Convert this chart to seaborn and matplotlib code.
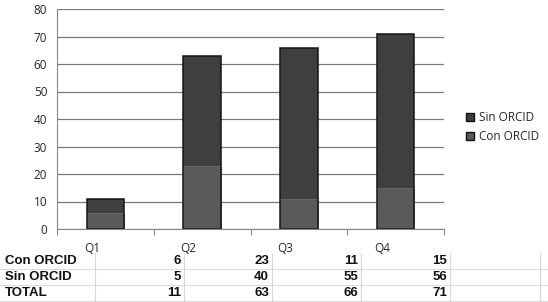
import matplotlib.pyplot as plt
import pandas as pd
import seaborn as sns
from matplotlib.lines import Line2D
from matplotlib.patches import Patch

# data
quarters = ['Q1', 'Q2', 'Q3', 'Q4']
con_orcid = [6, 23, 11, 15]
sin_orcid = [5, 40, 55, 56]
total = [11, 63, 66, 71]

df = pd.DataFrame({'quarter': quarters, 'con': con_orcid, 'sin': sin_orcid, 'total': total})

sns.set_style('white')
plt.rcParams['font.family'] = ['Open Sans', 'DejaVu Sans']

fig = plt.figure(figsize=(5.48, 3.02), dpi=100)
ax = fig.add_axes([57 / 548, 1 - 229 / 302, 387 / 548, 220 / 302])

sin_color = '#3f3f3f'
con_color = '#5a5a5a'

# stacked: total bar (Sin on top) then Con bar over the bottom
sns.barplot(data=df, x='quarter', y='total', color=sin_color, width=0.39,
            linewidth=0, saturation=1, ax=ax)
sns.barplot(data=df, x='quarter', y='con', color=con_color, width=0.39,
            edgecolor='#6a6a6a', linewidth=0.6, saturation=1, ax=ax)
# outline of whole bar
sns.barplot(data=df, x='quarter', y='total', fill=False, width=0.39,
            edgecolor='#151515', linewidth=1.1, ax=ax)

ax.set_ylim(0, 80)
ax.set_xlim(-0.5, 3.5)
ax.set_yticks(range(0, 81, 10))
ax.yaxis.grid(True, color='#7a7a7a', linewidth=0.9)
ax.set_axisbelow(True)
ax.set_xlabel('')
ax.set_ylabel('')
for s in ['top', 'right']:
    ax.spines[s].set_visible(False)
ax.spines['left'].set_color('#888888')
ax.spines['bottom'].set_color('#888888')
ax.tick_params(axis='y', length=4, direction='out', color='#888888', labelsize=8.5, pad=3)
ax.set_xticks([-0.5, 0.5, 1.5, 2.5, 3.5])
ax.set_xticklabels([])
ax.tick_params(axis='x', length=4, direction='out', color='#888888', bottom=True)
for i, q in enumerate(quarters):
    ax.text(i - 0.14, -0.06, q, transform=ax.get_xaxis_transform(), ha='center', va='top', fontsize=8.5)

# legend
handles = [Patch(facecolor=sin_color, edgecolor='#111111', label='Sin ORCID'),
           Patch(facecolor=con_color, edgecolor='#111111', label='Con ORCID')]
fig.legend(handles=handles, loc='center left', bbox_to_anchor=(455 / 548, 1 - 127 / 302),
           frameon=False, fontsize=8.5, handlelength=0.7, handleheight=0.7,
           handletextpad=0.4, labelspacing=0.5)

# table below the chart
W, H = 548, 302
col_edges = [95, 184, 272, 361, 450, 540]
row_y = [261, 277, 293]
row_lines = [252, 269, 285, 301]
rows = [('Con ORCID', con_orcid), ('Sin ORCID', sin_orcid), ('TOTAL', total)]
for yy, (label, vals) in zip(row_y, rows):
    fig.text(5 / W, 1 - yy / H, label, ha='left', va='center', fontsize=9.5,
             family='Liberation Sans', fontweight='bold', color='#111111')
    for j, v in enumerate(vals):
        fig.text((col_edges[j + 1] - 3) / W, 1 - yy / H, str(v), ha='right', va='center',
                 fontsize=9.5, family='Liberation Sans', fontweight='bold', color='#111111')
for yy in row_lines[1:]:
    fig.add_artist(Line2D([0, 1], [1 - yy / H] * 2, color='#dddddd', linewidth=0.8))
for xx in col_edges:
    fig.add_artist(Line2D([xx / W] * 2, [1 - 253 / H, 0], color='#d8d8d8', linewidth=0.8))

fig.savefig('out.png', dpi=100)
